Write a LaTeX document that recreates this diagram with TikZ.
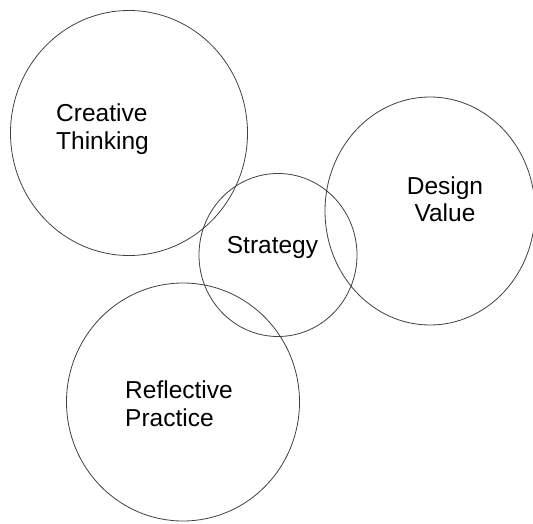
\documentclass[tikz,border=0pt]{standalone}
\usepackage{fontspec}
\setmainfont{Liberation Sans}
\usetikzlibrary{shapes}

\begin{document}
\begin{tikzpicture}[x=1pt,y=-1pt]

\tikzstyle{bubble}=[draw=black!75,line width=0.8pt,ellipse,inner sep=0pt]
\tikzstyle{label}=[font=\fontsize{24.5}{28}\selectfont,inner sep=0pt]

\useasboundingbox (0,0) rectangle (533,524);

%% Draw the four circles
\node (thinkcirc) [bubble,minimum width=237pt,minimum height=245pt] at (129,133) {};
\node (valuecirc) [bubble,minimum width=210pt,minimum height=228pt] at (430,211) {};
\node (stratcirc) [bubble,minimum width=158pt,minimum height=163pt] at (278,255) {};
\node (practcirc) [bubble,minimum width=233pt,minimum height=238pt] at (183,402) {};

%% Labels (base anchor sits on the last line)
\node (think) [label,align=left,anchor=base west] at (56,149.7) {Creative\\Thinking};
\node (value) [label,align=center,anchor=base] at (445,222) {Design\\Value};
\node (strat) [label,anchor=base] at (272.5,253) {Strategy};
\node (pract) [label,align=left,anchor=base west] at (125,426) {Reflective\\Practice};

\end{tikzpicture}
\end{document}
